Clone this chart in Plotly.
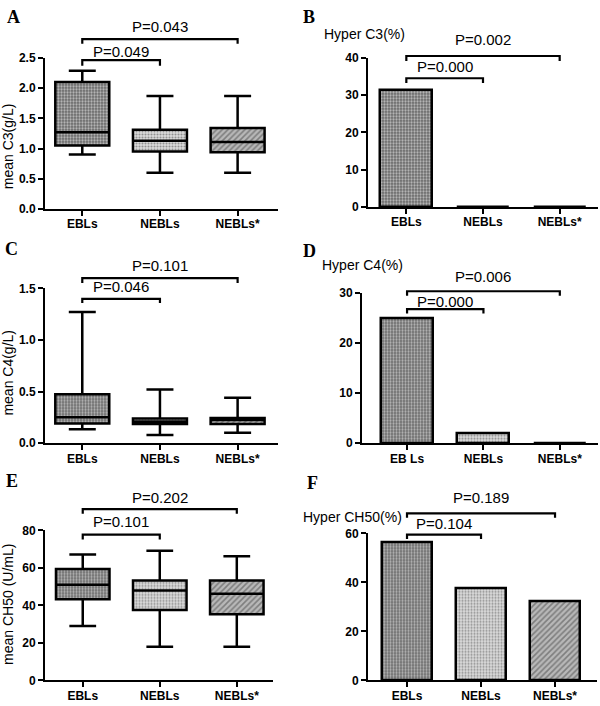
import plotly.graph_objects as go

# ---------------- data ----------------
categories = ["EBLs", "NEBLs", "NEBLs*"]
d_tick_labels = ["EB Ls", "NEBLs", "NEBLs*"]

# Panel A: mean C3 (g/L) box summaries
c3_low = [0.90, 0.60, 0.60]
c3_q1 = [1.05, 0.95, 0.94]
c3_median = [1.27, 1.13, 1.11]
c3_q3 = [2.10, 1.31, 1.34]
c3_high = [2.29, 1.87, 1.87]

# Panel C: mean C4 (g/L) box summaries
c4_low = [0.135, 0.08, 0.10]
c4_q1 = [0.19, 0.185, 0.185]
c4_median = [0.25, 0.21, 0.225]
c4_q3 = [0.475, 0.24, 0.245]
c4_high = [1.27, 0.52, 0.44]

# Panel E: mean CH50 (U/mL) box summaries
ch50_low = [29, 18, 18]
ch50_q1 = [43.3, 37.5, 35.3]
ch50_median = [51.0, 47.9, 46.2]
ch50_q3 = [59.4, 53.3, 53.3]
ch50_high = [67.1, 69.1, 66.2]

# Panels B, D, F: percentages
hyper_c3 = [31.3, 0, 0]
hyper_c4 = [25, 2, 0]
hyper_ch50 = [56.3, 37.5, 32.4]

# P-value labels: [EBLs vs NEBLs, EBLs vs NEBLs*]
p_a = ["P=0.049", "P=0.043"]
p_b = ["P=0.000", "P=0.002"]
p_c = ["P=0.046", "P=0.101"]
p_d = ["P=0.000", "P=0.006"]
p_e = ["P=0.101", "P=0.202"]
p_f = ["P=0.104", "P=0.189"]

# ---------------- styles ----------------
W, H = 600, 706
SANS = "Liberation Sans, Arial, sans-serif"
SERIF = "Liberation Serif, Times New Roman, serif"

patterns = [
    dict(shape=".", color="#6a6a6a", fgcolor="#1a1a1a", size=3, solidity=0.45),
    dict(shape=".", color="#dcdcdc", fgcolor="#8a8a8a", size=3, solidity=0.4),
    dict(shape="/", color="#b8b8b8", fgcolor="#444444", size=4, solidity=0.4),
]


def px_y(p):
    return 1 - p / H


def px_x(p):
    return p / W


def pattern_marker(line):
    return dict(color=[p["color"] for p in patterns],
                pattern=dict(shape=[p["shape"] for p in patterns],
                             fgcolor=[p["fgcolor"] for p in patterns],
                             size=[p["size"] for p in patterns],
                             solidity=[p["solidity"] for p in patterns],
                             fillmode="overlay"),
                line=line)


fig = go.Figure()

panels = [
    dict(ax="", xd=(45, 278), yd=(52, 206), xr=[-0.48, 2.52], yr=[0, 2.5], dt=0.5, tf=".1f"),
    dict(ax="2", xd=(368, 598), yd=(52, 204), xr=[-0.5, 2.5], yr=[0, 40], dt=10, tf="d"),
    dict(ax="3", xd=(45, 278), yd=(287, 445), xr=[-0.48, 2.52], yr=[0, 1.5], dt=0.5, tf=".1f"),
    dict(ax="4", xd=(362, 598), yd=(292, 445), xr=[-0.59, 2.5], yr=[0, 30], dt=10, tf="d"),
    dict(ax="5", xd=(45, 273), yd=(534, 687), xr=[-0.49, 2.47], yr=[0, 80], dt=20, tf="d"),
    dict(ax="6", xd=(368, 597), yd=(537, 687), xr=[-0.527, 2.567], yr=[0, 60], dt=20, tf="d"),
]

box_data = [
    ("", c3_low, c3_q1, c3_median, c3_q3, c3_high),
    ("3", c4_low, c4_q1, c4_median, c4_q3, c4_high),
    ("5", ch50_low, ch50_q1, ch50_median, ch50_q3, ch50_high),
]
BOX_W = 0.695
for ax, lo, q1, med, q3, hi in box_data:
    fig.add_trace(go.Bar(
        x=categories, y=[b - a for a, b in zip(q1, q3)], base=q1, width=BOX_W,
        marker=pattern_marker(dict(width=0)),
        xaxis="x" + ax, yaxis="y" + ax, showlegend=False, hoverinfo="skip"))
    fig.add_trace(go.Box(
        x=categories, q1=q1, median=med, q3=q3, lowerfence=lo, upperfence=hi,
        width=BOX_W, whiskerwidth=0.5, boxpoints=False,
        fillcolor="rgba(0,0,0,0)", line=dict(color="black", width=2.5),
        xaxis="x" + ax, yaxis="y" + ax, showlegend=False))

bar_data = [("2", hyper_c3), ("4", hyper_c4), ("6", hyper_ch50)]
for ax, vals in bar_data:
    fig.add_trace(go.Bar(
        x=categories, y=vals, width=0.68,
        marker=pattern_marker(dict(color="black", width=2.5)),
        xaxis="x" + ax, yaxis="y" + ax, showlegend=False))

layout_axes = {}
for p in panels:
    ax = p["ax"]
    xd = [px_x(p["xd"][0]), px_x(p["xd"][1])]
    yd = [px_y(p["yd"][1]), px_y(p["yd"][0])]
    xa = dict(domain=xd, range=p["xr"], anchor="y" + ax, type="category",
              showline=True, linewidth=2, linecolor="black",
              ticks="outside", ticklen=5, tickwidth=2, tickcolor="black",
              ticklabelstandoff=-2,
              tickfont=dict(family=SANS, size=12, color="black", weight="bold"),
              showgrid=False, zeroline=False, fixedrange=True)
    if ax == "4":
        xa.update(tickmode="array", tickvals=categories, ticktext=d_tick_labels)
    ya = dict(domain=yd, range=p["yr"], anchor="x" + ax,
              showline=True, linewidth=2, linecolor="black",
              ticks="outside", ticklen=5, tickwidth=2, tickcolor="black",
              tick0=0, dtick=p["dt"], tickformat=p["tf"],
              tickfont=dict(family=SANS, size=12, color="black", weight="bold"),
              showgrid=False, zeroline=False, fixedrange=True)
    layout_axes["xaxis" + ax] = xa
    layout_axes["yaxis" + ax] = ya

shapes = []
annotations = []

brackets = [
    ("", 0, 1, 54.3, 60, p_a[0], 45), ("", 0, 2, 32.7, 37.5, p_a[1], 20),
    ("2", 0, 1, 72.7, 77.5, p_b[0], 61), ("2", 0, 2, 50, 55, p_b[1], 33),
    ("3", 0, 1, 297.7, 302, p_c[0], 285), ("3", 0, 2, 276.7, 281.5, p_c[1], 263.3),
    ("4", 0, 1, 308.3, 312.7, p_d[0], 300), ("4", 0, 2, 290, 294.5, p_d[1], 275),
    ("5", 0, 1, 538.3, 543.3, p_e[0], 525), ("5", 0, 2, 512.3, 517, p_e[1], 500),
    ("6", 0, 1, 538.3, 542.7, p_f[0], 526.7), ("6", 0, 2, 516.7, 521, p_f[1], 500),
]
for ax, x0, x1, ly, ey, txt, ty in brackets:
    path = "M {x0},{e} L {x0},{l} L {x1},{l} L {x1},{e}".format(
        x0=x0, x1=x1, e=px_y(ey), l=px_y(ly))
    shapes.append(dict(type="path", path=path, xref="x" + ax, yref="paper",
                       line=dict(color="black", width=2.2)))
    annotations.append(dict(text=txt, x=(x0 + x1) / 2, y=px_y(ty), xref="x" + ax,
                            yref="paper", xanchor="center", yanchor="middle",
                            showarrow=False, font=dict(family=SANS, size=15, color="black")))

for letter, xp, yp in [("A", 13, 10), ("B", 309, 10), ("C", 11, 247),
                       ("D", 309, 249), ("E", 12, 484), ("F", 312, 486)]:
    annotations.append(dict(text=letter, x=px_x(xp), y=px_y(yp), xref="paper", yref="paper",
                            xanchor="center", yanchor="middle", showarrow=False,
                            font=dict(family=SERIF, size=18, color="black", weight="bold")))

for title, xp, yp in [("mean C3(g/L)", 8, 142), ("mean C4(g/L)", 8, 373),
                      ("mean CH50 (U/mL)", 8, 610)]:
    annotations.append(dict(text=title, x=px_x(xp), y=px_y(yp), xref="paper", yref="paper",
                            xanchor="center", yanchor="middle", textangle=-90, showarrow=False,
                            font=dict(family=SANS, size=14, color="black")))

for title, xp, yp in [("Hyper C3(%)", 364, 28), ("Hyper C4(%)", 362, 263),
                      ("Hyper CH50(%)", 352, 520)]:
    annotations.append(dict(text=title, x=px_x(xp), y=px_y(yp), xref="paper", yref="paper",
                            xanchor="center", yanchor="middle", showarrow=False,
                            font=dict(family=SANS, size=14, color="black")))

fig.update_layout(
    width=W, height=H, margin=dict(l=0, r=0, t=0, b=0),
    paper_bgcolor="white", plot_bgcolor="white",
    showlegend=False, bargap=0, boxmode="overlay", barmode="overlay",
    shapes=shapes, annotations=annotations, **layout_axes)

fig.write_html("out.html", config={"displayModeBar": False},
               post_script="document.body.style.margin='0';document.body.style.padding='0';")
